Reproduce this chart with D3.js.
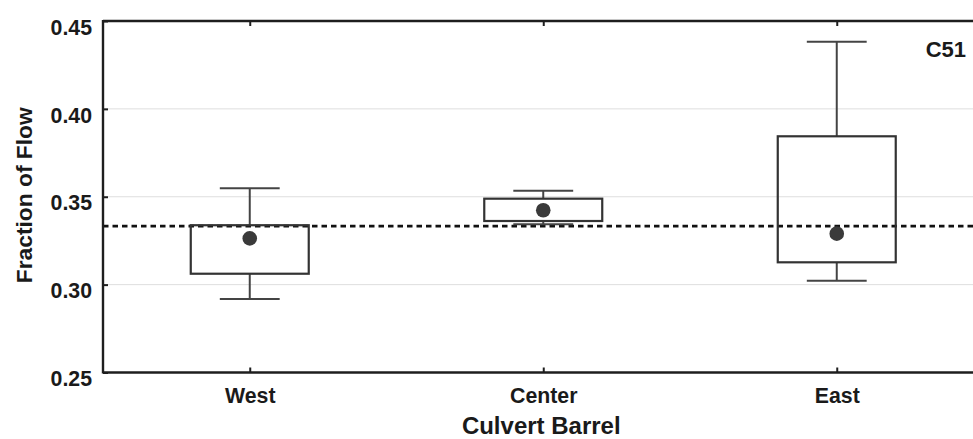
<!DOCTYPE html>
<html>
<head>
<meta charset="utf-8">
<script src="https://cdn.jsdelivr.net/npm/d3@7/dist/d3.min.js"></script>
<style>
  html, body { margin: 0; padding: 0; background: #fff; }
  svg { display: block; }
  text { font-family: "Liberation Sans", Arial, Helvetica, sans-serif; font-weight: bold; fill: #1a1a1a; }
</style>
</head>
<body>
<svg id="chart" width="973" height="439"></svg>
<script>
// Culvert barrel flow fractions (box = quartiles, whiskers = range, dot = mean)
const categories = ["West", "Center", "East"];
const whiskerLow  = [0.2918, 0.3343, 0.3022];
const boxLow      = [0.3062, 0.3362, 0.3127];
const boxHigh     = [0.3338, 0.3489, 0.3844];
const whiskerHigh = [0.3548, 0.3534, 0.4382];
const meanValues  = [0.3263, 0.3423, 0.3290];
const equalShare  = 1 / 3;
const yTicks      = [0.25, 0.30, 0.35, 0.40, 0.45];
const panelLabel  = "C51";
const xTitle      = "Culvert Barrel";
const yTitle      = "Fraction of Flow";

const svg = d3.select("#chart");
const plotLeft = 103, plotTop = 21, plotBottom = 372.5, plotRight = 983.5;

const x = d3.scalePoint().domain(categories).range([plotLeft, plotRight]).padding(0.5);
const y = d3.scaleLinear().domain([0.25, 0.45]).range([plotBottom, plotTop]);
const step = x.step();
const boxW = step * 0.402;
const capW = step * 0.204;

// light horizontal grid
svg.append("g")
  .selectAll("line")
  .data(yTicks.filter(t => t > 0.25 && t < 0.45))
  .join("line")
  .attr("x1", plotLeft).attr("x2", 973)
  .attr("y1", d => y(d)).attr("y2", d => y(d))
  .attr("stroke", "#dedede").attr("stroke-width", 1);

// reference line at an equal one-third split
svg.append("line")
  .attr("x1", plotLeft).attr("x2", 973)
  .attr("y1", y(equalShare)).attr("y2", y(equalShare))
  .attr("stroke", "#111").attr("stroke-width", 2.8)
  .attr("stroke-dasharray", "5.5,4");

const data = categories.map((c, i) => ({
  c, wl: whiskerLow[i], bl: boxLow[i], bh: boxHigh[i], wh: whiskerHigh[i], m: meanValues[i]
}));

const g = svg.append("g").selectAll("g").data(data).join("g");

// whisker stems
g.append("line")
  .attr("x1", d => x(d.c)).attr("x2", d => x(d.c))
  .attr("y1", d => y(d.wh)).attr("y2", d => y(d.bh))
  .attr("stroke", "#444").attr("stroke-width", 2);
g.append("line")
  .attr("x1", d => x(d.c)).attr("x2", d => x(d.c))
  .attr("y1", d => y(d.bl)).attr("y2", d => y(d.wl))
  .attr("stroke", "#444").attr("stroke-width", 2);
// whisker caps
g.append("line")
  .attr("x1", d => x(d.c) - capW / 2).attr("x2", d => x(d.c) + capW / 2)
  .attr("y1", d => y(d.wh)).attr("y2", d => y(d.wh))
  .attr("stroke", "#444").attr("stroke-width", 2);
g.append("line")
  .attr("x1", d => x(d.c) - capW / 2).attr("x2", d => x(d.c) + capW / 2)
  .attr("y1", d => y(d.wl)).attr("y2", d => y(d.wl))
  .attr("stroke", "#444").attr("stroke-width", 2);
// boxes
g.append("rect")
  .attr("x", d => x(d.c) - boxW / 2)
  .attr("width", boxW)
  .attr("y", d => y(d.bh))
  .attr("height", d => y(d.bl) - y(d.bh))
  .attr("fill", "none").attr("stroke", "#333").attr("stroke-width", 2.2);
// means
g.append("circle")
  .attr("cx", d => x(d.c)).attr("cy", d => y(d.m))
  .attr("r", 7.3).attr("fill", "#3a3a3a");

// axes
const axisColor = "#1e1e1e";
const yAxis = svg.append("g").attr("transform", `translate(${plotLeft},0)`)
  .call(d3.axisLeft(y).tickValues(yTicks).tickFormat(d3.format(".2f")).tickSizeInner(-5).tickSizeOuter(0).tickPadding(11));
const xAxis = svg.append("g").attr("transform", `translate(0,${plotBottom})`)
  .call(d3.axisBottom(x).tickSizeInner(-5).tickSizeOuter(0).tickPadding(16));
const xTop = svg.append("g").attr("transform", `translate(0,${plotTop})`)
  .call(d3.axisTop(x).tickSizeInner(-5).tickSizeOuter(0).tickFormat(""));

[yAxis, xAxis, xTop].forEach(a => {
  a.select(".domain").remove();
  a.selectAll(".tick line").attr("stroke", axisColor).attr("stroke-width", 2);
  a.selectAll("text").attr("font-size", 21.3).attr("fill", "#1a1a1a")
    .style("font-family", '"Liberation Sans", Arial, sans-serif').style("font-weight", "bold");
});
yAxis.selectAll(".tick text").attr("dy", "0.62em");
xAxis.selectAll(".tick text").attr("dy", "0.69em");

// frame lines: left, bottom, top (open on the right)
svg.append("line").attr("x1", plotLeft).attr("x2", plotLeft).attr("y1", plotTop - 1).attr("y2", plotBottom + 1)
  .attr("stroke", axisColor).attr("stroke-width", 2.4);
svg.append("line").attr("x1", plotLeft).attr("x2", 973).attr("y1", plotBottom).attr("y2", plotBottom)
  .attr("stroke", axisColor).attr("stroke-width", 2.4);
svg.append("line").attr("x1", plotLeft).attr("x2", 973).attr("y1", plotTop).attr("y2", plotTop)
  .attr("stroke", axisColor).attr("stroke-width", 2.4);

// titles
svg.append("text")
  .attr("x", (plotLeft + plotRight) / 2 - 2).attr("y", 434)
  .attr("text-anchor", "middle").attr("font-size", 24)
  .text(xTitle);
svg.append("text")
  .attr("transform", `translate(31.5,${(plotTop + plotBottom) / 2 - 1.5}) rotate(-90)`)
  .attr("text-anchor", "middle").attr("font-size", 22.8)
  .text(yTitle);
svg.append("text")
  .attr("x", 966).attr("y", 56.5)
  .attr("text-anchor", "end").attr("font-size", 22)
  .text(panelLabel);
</script>
</body>
</html>
